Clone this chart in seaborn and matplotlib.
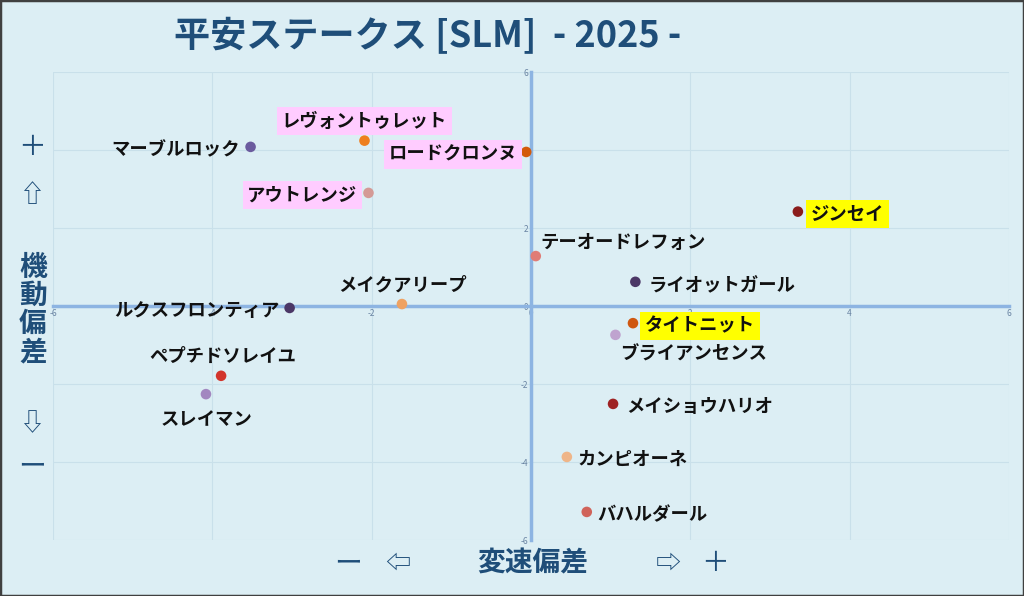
import matplotlib
matplotlib.use("Agg")
import matplotlib.pyplot as plt
import seaborn as sns
import pandas as pd
from matplotlib.patches import Rectangle

names = ["マーブルロック", "レヴォントゥレット", "ロードクロンヌ", "アウトレンジ",
         "テーオードレフォン", "ジンセイ", "ライオットガール", "メイクアリープ",
         "ルクスフロンティア", "タイトニット", "ブライアンセンス", "ペプチドソレイユ",
         "スレイマン", "メイショウハリオ", "カンピオーネ", "バハルダール"]
speed_dev = [-3.52, -2.09, -0.06, -2.04, 0.06, 3.35, 1.31, -1.62,
             -3.03, 1.28, 1.06, -3.89, -4.08, 1.03, 0.45, 0.70]
mobility_dev = [4.08, 4.24, 3.95, 2.90, 1.28, 2.42, 0.62, 0.05,
                -0.05, -0.44, -0.74, -1.79, -2.26, -2.51, -3.87, -5.28]
colors = ["#6B5B9E", "#EE7F1E", "#D35A0A", "#D49A96", "#E07C76", "#8A1C1C",
          "#4B3766", "#EFA262", "#4B3766", "#CF5710", "#BFA3CF", "#D2342B",
          "#A287C0", "#9E2222", "#EFB588", "#D0635A"]
highlight = ["none", "pink", "pink", "pink", "none", "yellow", "none", "none",
             "none", "yellow", "none", "none", "none", "none", "none", "none"]
# label placement: (dx px, dy px, ha)
placement = [(-11, 0, "right"), (0, 22, "center"), (-9, 0, "right"), (-11, 0, "right"),
             (5, 16, "left"), (13, 0, "left"), (13, 0, "left"), (1, 22, "center"),
             (-10, 0, "right"), (12, 0, "left"), (5, -17, "left"), (2, 22, "center"),
             (1, -23, "center"), (13, 0, "left"), (11, 0, "left"), (11, 0, "left")]
ticks = [-6, -4, -2, 0, 2, 4, 6]

df = pd.DataFrame({"name": names, "x": speed_dev, "y": mobility_dev})

BG = "#DCEEF4"
NAVY = "#1F4E79"
AXC = "#8DB4E2"

fig = plt.figure(figsize=(10.24, 5.96), dpi=100, facecolor=BG)
plt.rcParams['font.family'] = ['Noto Sans CJK JP', 'DejaVu Sans']
ax = fig.add_axes([53/1024, 1 - 540/596, 956/1024, 468/596])
ax.set_facecolor(BG)

sns.scatterplot(data=df, x="x", y="y", hue="name", palette=dict(zip(names, colors)),
                s=58, edgecolor="none", legend=False, ax=ax, zorder=5)

ax.set_xlim(-6, 6)
ax.set_ylim(-6, 6)
ax.set_xticks(ticks)
ax.set_yticks(ticks)
ax.set_xticklabels([str(t) for t in ticks])
ax.set_yticklabels([str(t) for t in ticks])
ax.grid(True, color="#C9E0EA", lw=0.8)
ax.set_axisbelow(True)
for s in ["top", "right"]:
    ax.spines[s].set_visible(False)
for s in ["left", "bottom"]:
    ax.spines[s].set_position("zero")
    ax.spines[s].set_color(AXC)
    ax.spines[s].set_linewidth(2.5)
    ax.spines[s].set_zorder(3)
ax.tick_params(length=0, labelsize=6, colors="#6A84A3", pad=2)
ax.set_xlabel("")
ax.set_ylabel("")

pt = 72 / 100
boxc = {"pink": "#FFCCFF", "yellow": "#FFFF00"}
for n, x, y, hl, (dx, dy, ha) in zip(names, speed_dev, mobility_dev, highlight, placement):
    bbox = None
    if hl != "none":
        bbox = dict(boxstyle="square,pad=0.25", fc=boxc[hl], ec="none")
    ax.annotate(n, (x, y), xytext=(dx * pt, (dy - 2.5) * pt), textcoords="offset points",
                ha=ha, va="center", fontsize=13.2, fontweight="bold", color="#111111",
                bbox=bbox, zorder=6)

fam = ['Noto Sans CJK JP', 'DejaVu Sans']
fig.text(428/1024, 1 - 37/596, "平安ステークス [SLM]  - 2025 -", ha="center", va="center",
         fontsize=26, fontweight="bold", color=NAVY, family=fam)

def ft(px, py, s, size=20, **kw):
    fig.text(px/1024, 1 - py/596, s, ha="center", va="center", fontsize=size,
             color=NAVY, family=fam, **kw)

ft(32, 147, "＋", 20)
ft(32, 195, "⇧", 18)
ft(33, 310, "機\n動\n偏\n差", 20, fontweight="bold", linespacing=1.0)
ft(32, 424, "⇩", 18)
ft(32, 466, "ー", 20)
ft(348, 563, "ー", 20)
ft(398, 564, "⇦", 18)
ft(533, 563, "変速偏差", 20, fontweight="bold")
ft(668, 564, "⇨", 18)
ft(715, 563, "＋", 20)

fig.patches.append(Rectangle((0, 0), 1, 1, transform=fig.transFigure, fill=False,
                             ec="#404040", lw=2.5))

fig.savefig("out.png", dpi=100, facecolor=BG)
